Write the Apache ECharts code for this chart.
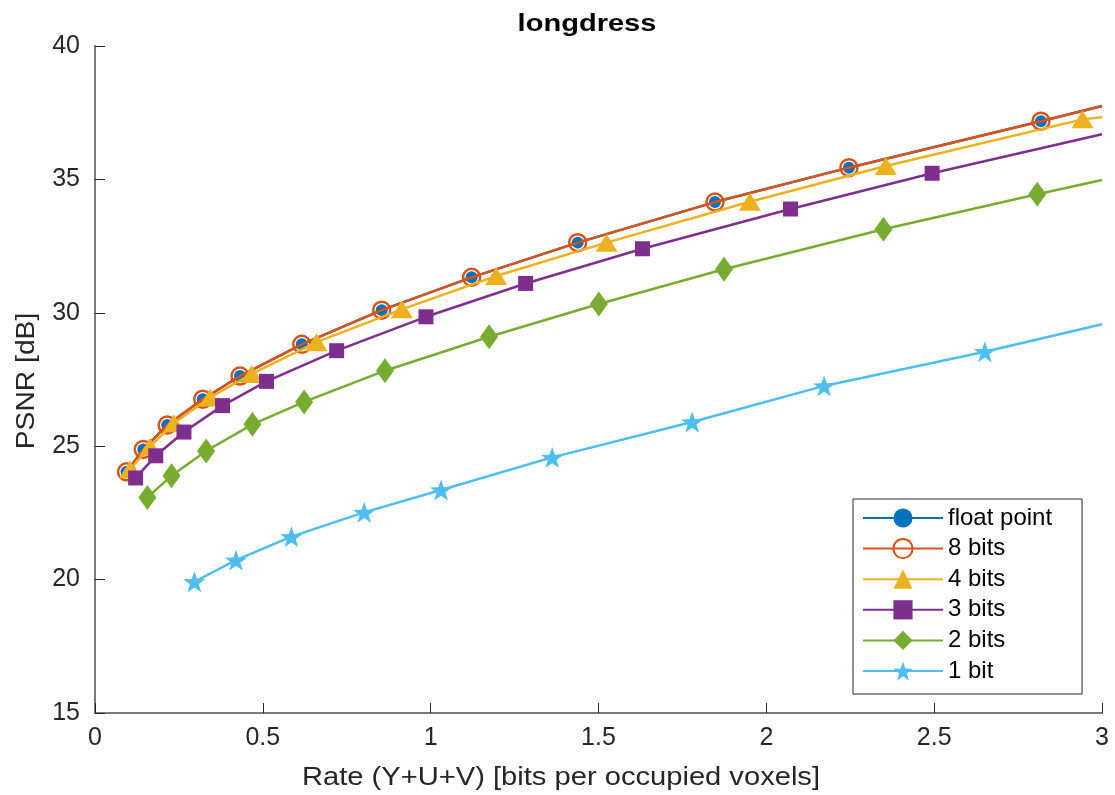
<!DOCTYPE html>
<html><head><meta charset="utf-8">
<script src="https://cdn.jsdelivr.net/npm/echarts@6/dist/echarts.min.js"></script>
<style>html,body{margin:0;padding:0;background:#fff}#c{width:1115px;height:795px}</style>
</head><body><div id="c"></div>
<script>
const seriesNames = ['float point', '8 bits', '4 bits', '3 bits', '2 bits', '1 bit'];
const floatX = [0.094, 0.144, 0.215, 0.321, 0.432, 0.616, 0.854, 1.122, 1.438, 1.847, 2.246, 2.818];
const floatY = [24.04, 24.88, 25.79, 26.76, 27.63, 28.82, 30.10, 31.33, 32.63, 34.15, 35.44, 37.18];
const bits8X = [0.094, 0.144, 0.215, 0.321, 0.432, 0.616, 0.854, 1.122, 1.438, 1.847, 2.246, 2.818];
const bits8Y = [24.04, 24.88, 25.79, 26.76, 27.63, 28.82, 30.10, 31.33, 32.63, 34.15, 35.44, 37.18];
const bits4X = [0.104, 0.164, 0.235, 0.343, 0.467, 0.660, 0.914, 1.195, 1.524, 1.951, 2.356, 2.942];
const bits4Y = [24.13, 24.98, 25.86, 26.83, 27.71, 28.90, 30.13, 31.38, 32.63, 34.16, 35.50, 37.25];
const bits3X = [0.121, 0.181, 0.265, 0.380, 0.511, 0.720, 0.986, 1.283, 1.631, 2.072, 2.494];
const bits3Y = [23.81, 24.64, 25.53, 26.52, 27.43, 28.58, 29.85, 31.10, 32.40, 33.89, 35.23];
const bits2X = [0.156, 0.228, 0.331, 0.469, 0.623, 0.864, 1.174, 1.501, 1.874, 2.349, 2.807];
const bits2Y = [23.08, 23.89, 24.82, 25.82, 26.66, 27.83, 29.10, 30.33, 31.63, 33.13, 34.44];
const bits1X = [0.296, 0.420, 0.585, 0.802, 1.031, 1.362, 1.779, 2.172, 2.651];
const bits1Y = [19.92, 20.73, 21.61, 22.52, 23.36, 24.58, 25.91, 27.26, 28.54];
// where each curve leaves the plot at rate = 3
const edgeX = 3;
const edgeY = [37.75, 37.75, 37.33, 36.69, 34.98, 29.57];
const xTicks = [0, 0.5, 1, 1.5, 2, 2.5, 3];
const yTicks = [15, 20, 25, 30, 35, 40];
const titleText = 'longdress';
const xLabelText = 'Rate (Y+U+V) [bits per occupied voxels]';
const yLabelText = 'PSNR [dB]';

const FONT = 'Liberation Sans, Arial, Helvetica, sans-serif';
const colors = ['#0072BD', '#D95319', '#EDB120', '#7E2F8E', '#77AC30', '#4DBEEE'];
const starPath = 'path://M0,-10L2.35,-3.24L9.51,-3.09L3.8,1.24L5.88,8.09L0,4L-5.88,8.09L-3.8,1.24L-9.51,-3.09L-2.35,-3.24Z';
const xs = [floatX, bits8X, bits4X, bits3X, bits2X, bits1X];
const ys = [floatY, bits8Y, bits4Y, bits3Y, bits2Y, bits1Y];
const symbols = ['circle', 'circle', 'triangle', 'rect', 'diamond', starPath];
const sizes = [12, 17, [22, 18], 15, [18, 25], 22];

const series = seriesNames.map((name, i) => {
  const data = xs[i].map((x, k) => [x, ys[i][k]]);
  data.push({ value: [edgeX, edgeY[i]], symbol: 'none' });
  const hollow = i === 1;
  return {
    name, type: 'line', data,
    symbol: symbols[i], symbolSize: sizes[i], symbolKeepAspect: true,
    showAllSymbol: true, smooth: false, clip: true,
    lineStyle: { color: colors[i], width: 2.5 },
    itemStyle: hollow ? { color: 'rgba(255,255,255,0)', borderColor: colors[i], borderWidth: 2.5 }
                      : { color: colors[i], borderWidth: 0 },
    emphasis: { disabled: true },
    z: 2 + i
  };
});

const chart = echarts.init(document.getElementById('c'), null, { renderer: 'canvas' });
chart.setOption({
  backgroundColor: '#fff',
  animation: false,
  textStyle: { fontFamily: FONT },
  grid: { left: 95, right: 13, top: 46, bottom: 82, containLabel: false },
  legend: {
    data: seriesNames, orient: 'vertical', left: 853, top: 499,
    itemWidth: 80, itemHeight: 24, itemGap: 6.6,
    padding: [7, 30, 11, 9],
    borderColor: '#262626', borderWidth: 1, backgroundColor: '#fff',
    textStyle: { fontSize: 24, color: '#000', fontFamily: FONT }
  },
  xAxis: {
    type: 'value', min: 0, max: 3, interval: 0.5,
    axisLine: { show: true, onZero: false, lineStyle: { color: '#7a7a7a', width: 2 } },
    axisTick: { show: true, inside: true, length: 10, lineStyle: { color: '#262626', width: 1 } },
    axisLabel: { fontSize: 25, color: '#262626', margin: 13, formatter: v => String(v) },
    splitLine: { show: false }
  },
  yAxis: {
    type: 'value', min: 15, max: 40, interval: 5,
    axisLine: { show: true, onZero: false, lineStyle: { color: '#7a7a7a', width: 2 } },
    axisTick: { show: true, inside: true, length: 10, lineStyle: { color: '#262626', width: 1 } },
    axisLabel: { fontSize: 25, color: '#262626', margin: 15 },
    splitLine: { show: false }
  },
  graphic: [
    { type: 'text', x: 587, y: 24, scaleX: 1.21, silent: true,
      style: { text: titleText, font: 'bold 24px ' + FONT, fill: '#000', align: 'center', verticalAlign: 'middle' } },
    { type: 'text', x: 561, y: 778, scaleX: 1.165, silent: true,
      style: { text: xLabelText, font: '25px ' + FONT, fill: '#262626', align: 'center', verticalAlign: 'middle' } },
    { type: 'text', x: 27, y: 381, rotation: Math.PI / 2, scaleX: 1.13, silent: true,
      style: { text: yLabelText, font: '25px ' + FONT, fill: '#262626', align: 'center', verticalAlign: 'middle' } }
  ],
  series
});
</script></body></html>
